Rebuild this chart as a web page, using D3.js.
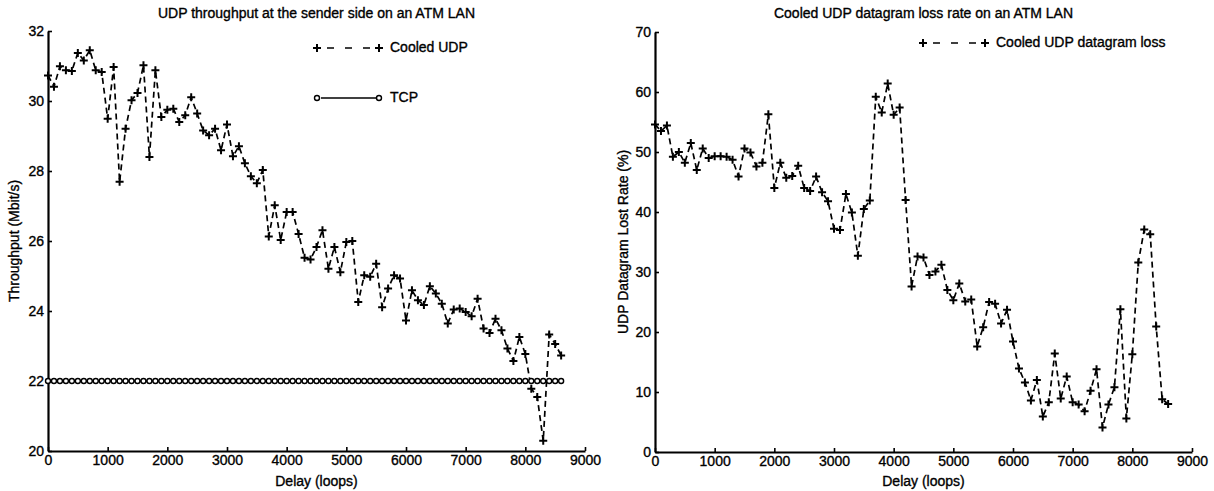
<!DOCTYPE html>
<html>
<head>
<meta charset="utf-8">
<script src="https://cdn.jsdelivr.net/npm/d3@7"></script>
<style>
  body { margin: 0; background: #fff; }
  svg { display: block; font-family: "Liberation Sans", Arial, Helvetica, sans-serif; }
  svg text { fill: #000; stroke: #000; stroke-width: 0.35px; }
  .tick text { font-size: 14px; }
</style>
</head>
<body>
<div id="chart"></div>
<script>
// delay in loops, one sample every 100 loops
const delay = [
  0, 100, 200, 300, 400, 500, 600, 700, 800, 900,
  1000, 1100, 1200, 1300, 1400, 1500, 1600, 1700, 1800, 1900,
  2000, 2100, 2200, 2300, 2400, 2500, 2600, 2700, 2800, 2900,
  3000, 3100, 3200, 3300, 3400, 3500, 3600, 3700, 3800, 3900,
  4000, 4100, 4200, 4300, 4400, 4500, 4600, 4700, 4800, 4900,
  5000, 5100, 5200, 5300, 5400, 5500, 5600, 5700, 5800, 5900,
  6000, 6100, 6200, 6300, 6400, 6500, 6600, 6700, 6800, 6900,
  7000, 7100, 7200, 7300, 7400, 7500, 7600, 7700, 7800, 7900,
  8000, 8100, 8200, 8300, 8400, 8500, 8600
];

// throughput (Mbit/s)
const cooledUdp = [
  30.73, 30.41, 30.99, 30.88, 30.86, 31.37, 31.16, 31.45, 30.88, 30.83,
  29.49, 30.97, 27.69, 29.21, 30.02, 30.23, 31.02, 28.40, 30.88, 29.54,
  29.75, 29.78, 29.40, 29.59, 30.11, 29.64, 29.16, 29.02, 29.21, 28.59,
  29.33, 28.42, 28.71, 28.22, 27.85, 27.65, 28.03, 26.13, 27.02, 26.03,
  26.83, 26.83, 26.20, 25.52, 25.47, 25.83, 26.31, 25.21, 25.83, 25.11,
  25.97, 26.00, 24.26, 25.02, 24.98, 25.35, 24.11, 24.64, 25.02, 24.93,
  23.73, 24.59, 24.31, 24.17, 24.71, 24.50, 24.21, 23.64, 24.04, 24.07,
  23.97, 23.85, 24.35, 23.50, 23.37, 23.78, 23.45, 22.93, 22.57, 23.26,
  22.77, 21.78, 21.54, 20.29, 23.33, 23.06, 22.73
];

const tcp = [
  22, 22, 22, 22, 22, 22, 22, 22, 22, 22,
  22, 22, 22, 22, 22, 22, 22, 22, 22, 22,
  22, 22, 22, 22, 22, 22, 22, 22, 22, 22,
  22, 22, 22, 22, 22, 22, 22, 22, 22, 22,
  22, 22, 22, 22, 22, 22, 22, 22, 22, 22,
  22, 22, 22, 22, 22, 22, 22, 22, 22, 22,
  22, 22, 22, 22, 22, 22, 22, 22, 22, 22,
  22, 22, 22, 22, 22, 22, 22, 22, 22, 22,
  22, 22, 22, 22, 22, 22, 22
];

// datagram loss rate (%)
const udpLoss = [
  54.6, 53.5, 54.4, 49.2, 50.0, 48.2, 51.5, 47.0, 50.6, 49.0,
  49.3, 49.3, 49.2, 48.7, 45.9, 50.6, 49.9, 47.6, 48.2, 56.3,
  44.0, 48.2, 45.7, 46.0, 47.7, 44.0, 43.5, 45.9, 43.3, 41.8,
  37.2, 37.0, 43.0, 39.9, 32.7, 40.5, 41.9, 59.2, 56.6, 61.4,
  56.2, 57.4, 42.0, 27.6, 32.6, 32.4, 29.5, 30.1, 31.2, 27.0,
  25.3, 28.1, 25.1, 25.4, 17.6, 20.8, 25.0, 24.7, 21.4, 23.7,
  18.4, 13.9, 11.6, 8.6, 12.0, 5.9, 8.3, 16.4, 8.9, 12.6,
  8.3, 7.9, 6.8, 10.2, 13.8, 4.1, 7.9, 10.8, 23.8, 5.6,
  16.3, 31.6, 37.1, 36.3, 20.9, 8.8, 8.0
];

const xTicks = [0, 1000, 2000, 3000, 4000, 5000, 6000, 7000, 8000, 9000];
const leftTicks = [20, 22, 24, 26, 28, 30, 32];
const rightTicks = [0, 10, 20, 30, 40, 50, 60, 70];

const w = 1214, h = 491;

const svg = d3.select("#chart")
    .append("svg")
    .attr("width", w)
    .attr("height", h);

// plus marker path centred on 0,0
const plus = "M-4,0H4M0,-4V4";

function drawPanel(p) {
    const x = d3.scaleLinear([0, 9000], [p.left, p.right]);
    const y = d3.scaleLinear(p.yDomain, [p.bottom, p.top]);

    const g = svg.append("g");

    // axes, MATLAB style: ticks pointing in, no box
    const xa = g.append("g")
        .attr("transform", `translate(0,${p.bottom})`)
        .call(d3.axisBottom(x).tickValues(xTicks).tickFormat(d3.format("d"))
            .tickSizeInner(-4).tickSizeOuter(0).tickPadding(4));
    const ya = g.append("g")
        .attr("transform", `translate(${p.left},0)`)
        .call(d3.axisLeft(y).tickValues(p.yTicks).tickFormat(d3.format("d"))
            .tickSizeInner(-4).tickSizeOuter(0).tickPadding(4));
    for (let a of [xa, ya]) {
        a.attr("font-size", null).attr("font-family", null);
        a.select(".domain").attr("stroke", "#000").attr("stroke-width", 2.2);
        a.selectAll(".tick line").attr("stroke", "#000").attr("stroke-width", 1.6);
    }

    // title + labels
    g.append("text")
        .attr("x", (p.left + p.right) / 2).attr("y", 18)
        .attr("text-anchor", "middle").style("font-size", "14px")
        .text(p.title);
    g.append("text")
        .attr("x", (p.left + p.right) / 2).attr("y", 486)
        .attr("text-anchor", "middle").style("font-size", "14px")
        .text("Delay (loops)");
    g.append("text")
        .attr("transform", `translate(${p.ylabelX},${(p.top + p.bottom) / 2}) rotate(-90)`)
        .attr("text-anchor", "middle").style("font-size", "14px")
        .text(p.ylabel);

    const line = d3.line().x((d, i) => x(delay[i])).y(d => y(d));

    // each series: values, dashed?, marker
    for (let s of p.series) {
        g.append("path")
            .datum(s.values)
            .attr("fill", "none")
            .attr("stroke", "#000")
            .attr("stroke-width", 1.7)
            .attr("stroke-dasharray", s.dashed ? "6,4" : null)
            .attr("d", line);
        drawMarkers(g, s.marker, s.values.map((v, i) => [x(delay[i]), y(v)]));
    }

    // legend
    p.series.forEach((s, i) => {
        const ly = p.legendY[i];
        g.append("line")
            .attr("x1", p.legendX + 4).attr("x2", p.legendX + 62)
            .attr("y1", ly).attr("y2", ly)
            .attr("stroke", "#000").attr("stroke-width", 1.7)
            .attr("stroke-dasharray", s.dashed ? "0,6,7,5" : null);
        drawMarkers(g, s.marker, [[p.legendX, ly], [p.legendX + 62, ly]]);
        g.append("text")
            .attr("x", p.legendX + 73).attr("y", ly)
            .attr("dominant-baseline", "middle").style("font-size", "14px")
            .text(s.name);
    });
}

function drawMarkers(g, marker, pts) {
    if (marker === "plus") {
        g.append("g").selectAll("path").data(pts).join("path")
            .attr("transform", d => `translate(${d[0]},${d[1]})`)
            .attr("d", plus)
            .attr("stroke", "#000").attr("stroke-width", 2);
    } else {
        g.append("g").selectAll("circle").data(pts).join("circle")
            .attr("cx", d => d[0]).attr("cy", d => d[1]).attr("r", 2.5)
            .attr("fill", "#fff").attr("stroke", "#000").attr("stroke-width", 1.4);
    }
}

drawPanel({
    left: 48, right: 585, top: 31, bottom: 451,
    yDomain: [20, 32], yTicks: leftTicks,
    title: "UDP throughput at the sender side on an ATM LAN",
    ylabel: "Throughput (Mbit/s)", ylabelX: 19,
    legendX: 317, legendY: [48, 98],
    series: [
        {name: "Cooled UDP", values: cooledUdp, dashed: true, marker: "plus"},
        {name: "TCP", values: tcp, dashed: false, marker: "circle"}
    ]
});

drawPanel({
    left: 655, right: 1192, top: 32, bottom: 452,
    yDomain: [0, 70], yTicks: rightTicks,
    title: "Cooled UDP datagram loss rate on an ATM LAN",
    ylabel: "UDP Datagram Lost Rate (%)", ylabelX: 628,
    legendX: 923, legendY: [43],
    series: [
        {name: "Cooled UDP datagram loss", values: udpLoss, dashed: true, marker: "plus"}
    ]
});
</script>
</body>
</html>
